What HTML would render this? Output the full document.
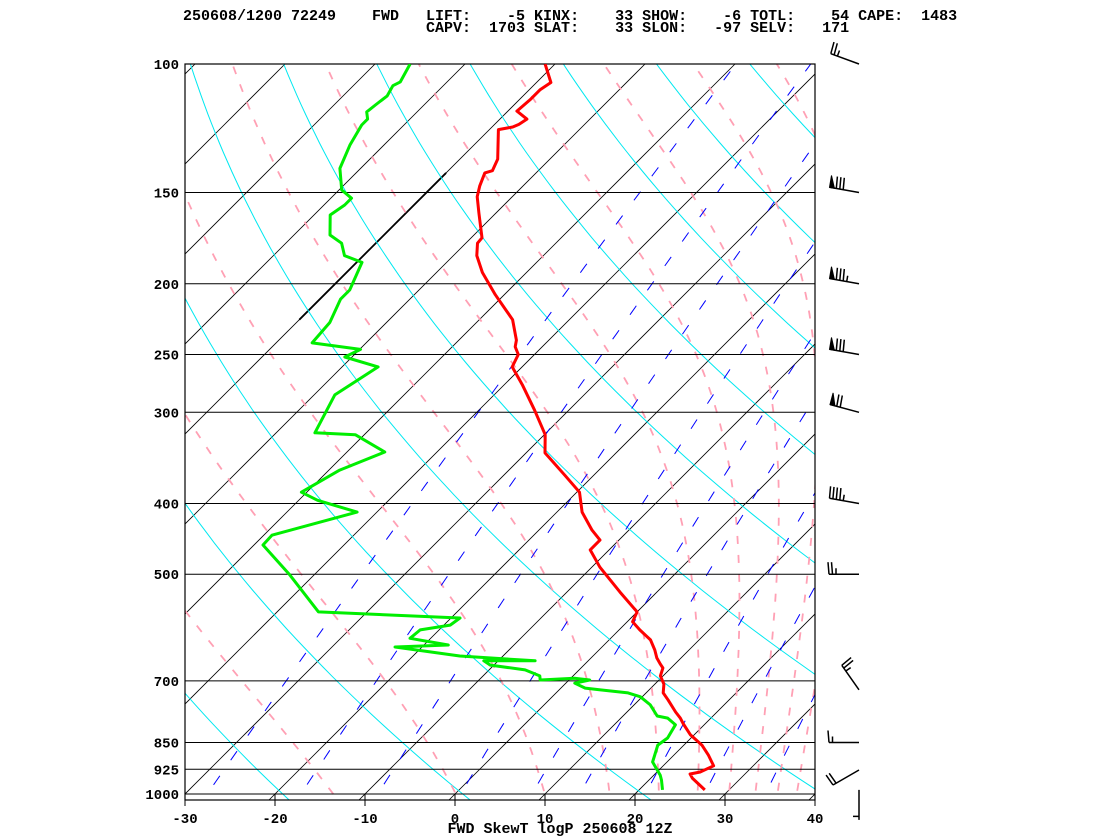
<!DOCTYPE html>
<html><head><meta charset="utf-8"><style>
html,body{margin:0;padding:0;background:#fff;width:1120px;height:840px;overflow:hidden}
pre{position:absolute;margin:0;font-family:"Liberation Mono",monospace;font-size:15px;line-height:12px;color:#000;font-weight:bold;letter-spacing:0}
svg{position:absolute;left:0;top:0}
</style></head><body>
<pre style="left:183px;top:11px">250608/1200 72249    FWD   LIFT:    -5 KINX:    33 SHOW:    -6 TOTL:    54 CAPE:  1483</pre>
<pre style="left:183px;top:23px">                           CAPV:  1703 SLAT:    33 SLON:   -97 SELV:   171</pre>
<svg id="chart" width="1120" height="840" viewBox="0 0 1120 840" xmlns="http://www.w3.org/2000/svg">
<defs><clipPath id="plotclip"><rect x="185" y="64" width="630" height="736"/></clipPath></defs>
<g id="bg" clip-path="url(#plotclip)"></g>
<g id="frame"></g>
<g id="series" clip-path="url(#plotclip)"></g>
<g id="labels"></g>
<g id="winds"></g>
<text x="560" y="833" text-anchor="middle" font-family="Liberation Mono, monospace" font-size="15" font-weight="bold">FWD SkewT logP 250608 12Z</text>
</svg>
<script>
const tempP = [987,951,939,933,915,884,857,830,802,787,772,743,727,707,689,672,664,651,635,615,596,581,563,529,489,463,449,435,411,386,366,341,322,298,275,260,250,244,239,224,217,207,193,183,176,173,160,152,147,141,140,135,123,122,121,119,116,112,108.5,106,100];
const tempT = [27.3,24.6,23.9,24.8,25.6,23.8,22,19.6,17.6,16.6,15.4,13.2,11.9,11.0,9.7,9.1,8.4,7.3,6.2,4.6,2.3,0.6,0,-4.1,-9.1,-12.1,-12.1,-14.1,-17.2,-19.7,-23.2,-27.9,-29.9,-33.8,-38,-41.1,-41.8,-43,-43.6,-46.3,-48.2,-51,-54.9,-57.4,-58.7,-58.8,-61.9,-63.9,-64.8,-65.7,-65.1,-65.8,-69,-67.7,-67.3,-67,-69,-68.8,-68.8,-68.4,-71.1];
const dewP = [987,957,942,904,857,838,804,787,782,755,736,727,720,716,705,698,694,698,689,676,666,657,657,647,629,625,612,596,587,574,563,501,456,442,411,396,386,360,340,322,320,284,260,252,246,241,226,210,204,187,183,176,171.5,161,156,152.7,148.8,139,129,121.2,119,116.3,113.8,110.6,107.1,105.8,100];
const dewT = [22.6,21.4,20.7,18.4,17.1,17.4,16.8,15.2,13.8,11.8,9.8,8,4.6,2.7,1,2.3,0.4,-3.2,-3.7,-6,-10.4,-11.6,-5.9,-14.8,-23,-17.3,-22.3,-22.1,-19.3,-19,-35.4,-42.7,-49,-49.1,-42.2,-47.9,-50.6,-48.8,-45.8,-51,-55.7,-57.7,-56,-60.8,-59.9,-66,-66.3,-67.7,-67.7,-69.4,-72.1,-73.8,-76,-78.2,-77.7,-77.7,-79.7,-82.3,-83.8,-84.7,-84.7,-85.6,-85.4,-85.1,-85.6,-85.2,-86.1];
const windP = [100,150,200,250,300,400,500,720,850,927,987];
const windDir = [290,280,280,280,285,280,270,325,270,240,180];
const windSpd = [25,80,85,80,70,45,25,25,15,20,5];
const pLevels = [100,150,200,250,300,400,500,700,850,925,1000];
const tTicks = [-30,-20,-10,0,10,20,30,40];
const isoT = [-130,-120,-110,-100,-90,-80,-70,-60,-50,-40,-30,-20,-10,0,10,20,30,40];
const dryTheta = [234,254,274,294,314,334,354,374,394,414,434,454,474,494,514];
const moistThetaE = [243,263,283,303,323,343,363,383,403,423,443];
const mixW = [0.4,1,2,4,7,10,16,24,36];

const NS='http://www.w3.org/2000/svg';
function yP(p){return 794-730*Math.log10(1000/p);}
function xT(T,p){return 185+(T+30)*9+(794-yP(p));}
function mk(tag,attrs,parent){const e=document.createElementNS(NS,tag);for(const k in attrs)e.setAttribute(k,attrs[k]);parent.appendChild(e);return e;}
function es(T){return 6.112*Math.exp(17.67*T/(T+243.5));}
const samp=[];for(let i=0;i<=80;i++){samp.push(1050*Math.pow(95/1050,i/80));}
function pathFrom(pts){return pts.map((q,i)=>(i?'L':'M')+q[0].toFixed(1)+' '+q[1].toFixed(1)).join(' ');}
const bg=document.getElementById('bg');

isoT.forEach(T=>{
  const e=mk('line',{x1:xT(T,1050),y1:yP(1050),x2:xT(T,95),y2:yP(95),stroke:'#000','stroke-width':0.8},bg);
  
  
});
const hl=mk('line',{x1:xT(-70,224),y1:yP(224),x2:xT(-70,141),y2:yP(141),stroke:'#000','stroke-width':1.8},bg);


dryTheta.forEach(th=>{
  const pts=samp.map(p=>[xT(th*Math.pow(p/1000,0.2857)-273.15,p),yP(p)]);
  const e=mk('path',{d:pathFrom(pts),fill:'none',stroke:'#00e8f0','stroke-width':1},bg);
  
  
});
function thetaE(p,T){const TK=T+273.15;const e=es(T);const ws=0.622*e/Math.max(p-e,1);return TK*Math.pow(1000/p,0.2857)*Math.exp(2.5e6*ws/(1004*TK));}
moistThetaE.forEach(te=>{
  const pts=[];
  samp.forEach(p=>{
    let lo=-140,hi=60;
    if(thetaE(p,hi)<te)return;
    for(let k=0;k<40;k++){const m=(lo+hi)/2;if(thetaE(p,m)<te)lo=m;else hi=m;}
    pts.push([xT(lo,p),yP(p)]);
  });
  const e=mk('path',{d:pathFrom(pts),fill:'none',stroke:'#ffa0b4','stroke-width':1.8,'stroke-dasharray':'8 11'},bg);
  
  
});
mixW.forEach(w=>{
  const pts=samp.map(p=>{const e=w*p/(622+w);const l=Math.log(e/6.112);return [xT(243.5*l/(17.67-l),p),yP(p)];});
  const e=mk('path',{d:pathFrom(pts),fill:'none',stroke:'#0000ff','stroke-width':1,'stroke-dasharray':'11 19'},bg);
  
  
});

const fr=document.getElementById('frame');
const rect=mk('rect',{x:185,y:64,width:630,height:736,fill:'none',stroke:'#000','stroke-width':1.2},fr);


const lab=document.getElementById('labels');
pLevels.forEach(p=>{
  const l=mk('line',{x1:185,y1:yP(p),x2:815,y2:yP(p),stroke:'#000','stroke-width':1},fr);
  
  
  const t=mk('text',{x:179,y:yP(p)+5,'text-anchor':'end','font-family':'Liberation Mono, monospace','font-size':14,'font-weight':'bold'},lab);
  t.textContent=String(p);
  
  
});
tTicks.forEach(T=>{
  const x=xT(T,1000);
  const l=mk('line',{x1:x,y1:794,x2:x,y2:806,stroke:'#000','stroke-width':1},fr);
  
  
  const t=mk('text',{x:x,y:823,'text-anchor':'middle','font-family':'Liberation Mono, monospace','font-size':14,'font-weight':'bold'},lab);
  t.textContent=String(T);
  
  
});

const sr=document.getElementById('series');
const tp=mk('path',{d:pathFrom(tempP.map((p,i)=>[xT(tempT[i],p),yP(p)])),fill:'none',stroke:'#ff0000','stroke-width':3,'stroke-linejoin':'round'},sr);


const dp=mk('path',{d:pathFrom(dewP.map((p,i)=>[xT(dewT[i],p),yP(p)])),fill:'none',stroke:'#00ee00','stroke-width':3,'stroke-linejoin':'round'},sr);



const wg=document.getElementById('winds');
windP.forEach((p,i)=>{
  const sx=859, sy=Math.min(yP(p),792);
  const a=windDir[i]*Math.PI/180;
  const ux=Math.sin(a), uy=-Math.cos(a);
  const rx=-uy, ry=ux;
  const L=30;
  const ex=sx+ux*L, ey=sy+uy*L;
  let d='M'+sx+' '+sy+' L'+ex.toFixed(1)+' '+ey.toFixed(1);
  let s=windSpd[i], pos=0;
  const fills=[];
  while(s>=50){const bx=ex-ux*pos,by=ey-uy*pos;const cx=ex-ux*(pos+5),cy=ey-uy*(pos+5);
    fills.push('M'+bx.toFixed(1)+' '+by.toFixed(1)+' L'+(bx+rx*12).toFixed(1)+' '+(by+ry*12).toFixed(1)+' L'+cx.toFixed(1)+' '+cy.toFixed(1)+' Z');pos+=7;s-=50;}
  while(s>=10){const bx=ex-ux*pos,by=ey-uy*pos;d+=' M'+bx.toFixed(1)+' '+by.toFixed(1)+' l'+(rx*12+ux*1).toFixed(1)+' '+(ry*12+uy*1).toFixed(1);pos+=3.5;s-=10;}
  if(s>=5){if(pos===0)pos=3.5;const bx=ex-ux*pos,by=ey-uy*pos;d+=' M'+bx.toFixed(1)+' '+by.toFixed(1)+' l'+(rx*6).toFixed(1)+' '+(ry*6).toFixed(1);}
  const e=mk('path',{d:d,fill:'none',stroke:'#000','stroke-width':1.5},wg);
  
  
  if(fills.length){const f=mk('path',{d:fills.join(' '),fill:'#000',stroke:'#000','stroke-width':1},wg);
    
    }
});
</script>
</body></html>
